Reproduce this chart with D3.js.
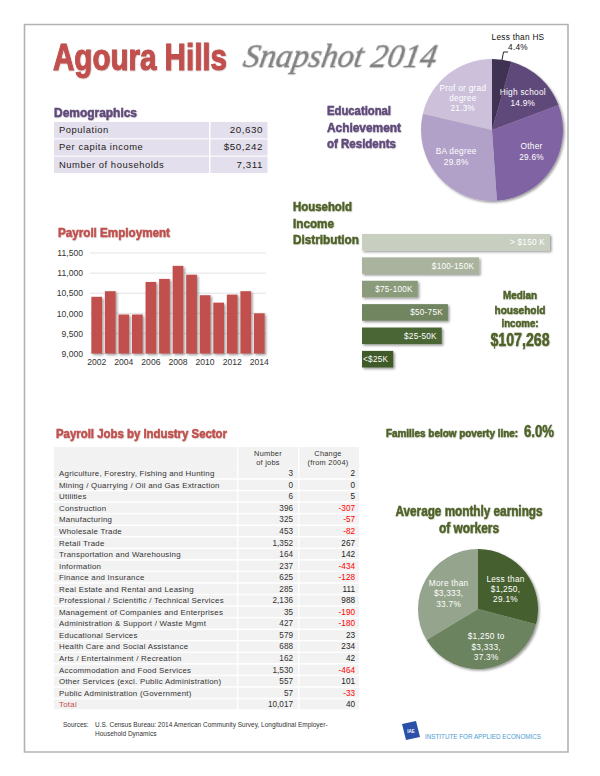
<!DOCTYPE html>
<html>
<head>
<meta charset="utf-8">
<script src="https://cdn.jsdelivr.net/npm/d3@7"></script>
<style>
  html, body { margin: 0; padding: 0; background: #fff; }
  svg { display: block; }
  text { font-family: "Liberation Sans", sans-serif; }
  .head { font-family: "Liberation Sans Narrow", "Liberation Sans", sans-serif; font-weight: bold; stroke-width: 0.5px; paint-order: stroke; }
  .script { font-family: "Liberation Serif", serif; font-style: italic; }
  .cell { letter-spacing: 0.25px; }
  .wide { letter-spacing: 0.55px; }
</style>
</head>
<body>
<svg id="page" width="600" height="776"></svg>
<script>
const demographicLabels = ["Population", "Per capita income", "Number of households"];
const demographicValues = ["20,630", "$50,242", "7,311"];

const educationLabels = [["Less than HS", "4.4%"], ["High school", "14.9%"], ["Other", "29.6%"], ["BA degree", "29.8%"], ["Prof or grad", "degree", "21.3%"]];
const educationShares = [4.4, 14.9, 29.6, 29.8, 21.3];
const educationColors = ["#403152", "#5f497a", "#8064a2", "#b1a0c7", "#ccc0da"];

const payrollYears = [2002, 2003, 2004, 2005, 2006, 2007, 2008, 2009, 2010, 2011, 2012, 2013, 2014];
const payrollValues = [10410, 10550, 9970, 9970, 10780, 10855, 11180, 10960, 10450, 10265, 10465, 10550, 10000];
const payrollTicks = [9000, 9500, 10000, 10500, 11000, 11500];

const incomeLabels = ["> $150 K", "$100-150K", "$75-100K", "$50-75K", "$25-50K", "<$25K"];
const incomeShares = [33.7, 21, 10, 15.4, 14.3, 5.6];
const incomeColors = ["#c8cfc1", "#a9b39e", "#8a9b7c", "#6f8561", "#4b6636", "#3f5a2a"];

const sectorNames = [
    "Agriculture, Forestry, Fishing and Hunting", "Mining / Quarrying / Oil and Gas Extraction", "Utilities",
    "Construction", "Manufacturing", "Wholesale Trade", "Retail Trade", "Transportation and Warehousing",
    "Information", "Finance and Insurance", "Real Estate and Rental and Leasing",
    "Professional / Scientific / Technical Services", "Management of Companies and Enterprises",
    "Administration & Support / Waste Mgmt", "Educational Services", "Health Care and Social Assistance",
    "Arts / Entertainment / Recreation", "Accommodation and Food Services",
    "Other Services (excl. Public Administration)", "Public Administration (Government)", "Total"
];
const sectorJobs = [3, 0, 6, 396, 325, 453, 1352, 164, 237, 625, 285, 2136, 35, 427, 579, 688, 162, 1530, 557, 57, 10017];
const sectorChange = [2, 0, 5, -307, -57, -82, 267, 142, -434, -128, 111, 988, -190, -180, 23, 234, 42, -464, 101, -33, 40];

const earningsLabels = [["Less than", "$1,250,", "29.1%"], ["$1,250 to", "$3,333,", "37.3%"], ["More than", "$3,333,", "33.7%"]];
const earningsShares = [29.1, 37.3, 33.7];
const earningsColors = ["#44602f", "#6c8360", "#95a48c"];

const red = "#c0504d";
const purple = "#5f497a";
const green = "#4f6228";

const svg = d3.select("#page");
const defs = svg.append("defs");

const addShadow = (id, dx, dy, blur, opacity) => {
    defs.append("filter")
        .attr("id", id)
        .attr("x", "-20%").attr("y", "-20%")
        .attr("width", "150%").attr("height", "150%")
        .append("feDropShadow")
        .attr("dx", dx).attr("dy", dy)
        .attr("stdDeviation", blur)
        .attr("flood-color", "#000")
        .attr("flood-opacity", opacity);
}
addShadow("shadow", 1.5, 1.5, 1.2, 0.4);
addShadow("textShadow", 0.5, 0.5, 0.5, 0.25);

const heading = (x, y, text, size, color, width, anchor = "start") => {
    const node = svg.append("text")
        .attr("class", "head")
        .attr("x", x).attr("y", y)
        .attr("text-anchor", anchor)
        .attr("font-size", size)
        .attr("fill", color)
        .attr("stroke", color)
        .attr("filter", "url(#textShadow)")
        .text(text);
    if (width) node.attr("textLength", width).attr("lengthAdjust", "spacingAndGlyphs");
    return node;
}

// page frame
svg.append("path")
    .attr("d", "M24.5,24.5 H568 V752 H24.5 Z")
    .attr("fill", "none")
    .attr("stroke", "#b2b2b2")
    .attr("stroke-width", 1.6);

// title
heading(53, 70, "Agoura Hills", 37, red, 174).style("stroke-width", "1.1px");
svg.append("text")
    .attr("class", "script")
    .attr("transform", "translate(242, 67) skewX(-10)")
    .attr("font-size", 34)
    .attr("fill", "#808080")
    .attr("stroke", "#808080")
    .attr("stroke-width", 0.3)
    .attr("filter", "url(#textShadow)")
    .attr("textLength", 193)
    .attr("lengthAdjust", "spacingAndGlyphs")
    .text("Snapshot 2014");

// demographics table
heading(54, 117, "Demographics", 13.5, purple, 83);

const demoRows = d3.scaleBand().domain(demographicLabels).range([122, 173]).paddingInner(0.06);
const demoRow = svg.append("g").selectAll("g")
    .data(demographicLabels)
    .join("g")
    .attr("transform", label => `translate(0, ${demoRows(label)})`);

demoRow.append("rect").attr("x", 54).attr("width", 155).attr("height", demoRows.bandwidth()).attr("fill", "#e4dfec");
demoRow.append("rect").attr("x", 210.5).attr("width", 57).attr("height", demoRows.bandwidth()).attr("fill", "#e4dfec");
demoRow.append("text")
    .attr("class", "wide")
    .attr("x", 59).attr("y", 11)
    .attr("font-size", 9.4)
    .attr("fill", "#222")
    .text(label => label);
demoRow.append("text")
    .attr("class", "wide")
    .attr("x", 263).attr("y", 11)
    .attr("text-anchor", "end")
    .attr("font-size", 9.8)
    .attr("fill", "#222")
    .text((label, i) => demographicValues[i]);

// education pie
[["Educational", 115, 64], ["Achievement", 132, 74], ["of Residents", 148, 69]].forEach(line => {
    heading(327, line[1], line[0], 13.5, purple, line[2]);
});

const drawPie = (cx, cy, radius, labelRadius, shares, colors, labels, nudgeX, nudgeY, skipFirst) => {
    const pie = d3.pie().sort(null).value(share => share)(shares);
    const arc = d3.arc().innerRadius(0).outerRadius(radius);
    const labelArc = d3.arc().innerRadius(labelRadius).outerRadius(labelRadius);
    const group = svg.append("g").attr("transform", `translate(${cx}, ${cy})`);

    group.append("g")
        .attr("filter", "url(#shadow)")
        .selectAll("path")
        .data(pie)
        .join("path")
        .attr("d", arc)
        .attr("fill", (slice, i) => colors[i]);

    pie.forEach((slice, i) => {
        if (skipFirst && i === 0) return;
        const [x, y] = labelArc.centroid(slice);
        const lines = labels[i];
        const text = group.append("text")
            .attr("class", "cell")
            .attr("text-anchor", "middle")
            .attr("font-size", 8.3)
            .attr("fill", "#fff");
        lines.forEach((line, n) => {
            text.append("tspan")
                .attr("x", x + nudgeX[i])
                .attr("y", y + nudgeY[i] + 3 + (n - (lines.length - 1) / 2) * 10.2)
                .text(line);
        });
    });
}

drawPie(492, 130, 71, 47, educationShares, educationColors, educationLabels, [0, -1, 0, 0, 0], [0, 2, -4, -4, 5], true);

educationLabels[0].forEach((line, n) => {
    svg.append("text")
        .attr("class", "cell")
        .attr("x", 518).attr("y", 40 + n * 10)
        .attr("text-anchor", "middle")
        .attr("font-size", 8.3)
        .attr("fill", "#111")
        .text(line);
});
svg.append("path")
    .attr("d", "M502,60 L503.5,52 H508")
    .attr("fill", "none")
    .attr("stroke", "#111")
    .attr("stroke-width", 0.9);

// payroll employment bars
heading(58, 237, "Payroll Employment", 13.5, red, 112);

const payrollX = d3.scaleBand().domain(payrollYears).range([90, 266]).paddingInner(0.21).paddingOuter(0.1);
const payrollY = d3.scaleLinear().domain([9000, 11500]).range([353.5, 253]);

const payrollAxisY = svg.append("g")
    .attr("transform", "translate(90, 0)")
    .call(d3.axisLeft(payrollY).tickValues(payrollTicks).tickSize(0).tickPadding(7).tickFormat(d3.format(",")));
payrollAxisY.select(".domain").remove();
payrollAxisY.selectAll("text").attr("font-size", 8.6).attr("fill", "#333");

svg.append("g").selectAll("line")
    .data(payrollTicks)
    .join("line")
    .attr("x1", 90).attr("x2", 266)
    .attr("y1", tick => payrollY(tick)).attr("y2", tick => payrollY(tick))
    .attr("stroke", "#dcdcdc")
    .attr("stroke-width", 0.8);

svg.append("g")
    .attr("filter", "url(#shadow)")
    .selectAll("rect")
    .data(payrollYears)
    .join("rect")
    .attr("x", year => payrollX(year))
    .attr("width", payrollX.bandwidth())
    .attr("y", (year, i) => payrollY(payrollValues[i]))
    .attr("height", (year, i) => payrollY(9000) - payrollY(payrollValues[i]))
    .attr("fill", red);

const payrollAxisX = svg.append("g")
    .attr("transform", "translate(0, 353.5)")
    .call(d3.axisBottom(payrollX)
        .tickValues(payrollYears.filter((year, i) => i % 2 === 0))
        .tickSize(0).tickPadding(5));
payrollAxisX.select(".domain").remove();
payrollAxisX.selectAll("text").attr("font-size", 8.6).attr("fill", "#333");

// household income bars
[["Household", 211, 59], ["Income", 228, 41], ["Distribution", 244, 66]].forEach(line => {
    heading(293, line[1], line[0], 13.5, green, line[2]);
});

const incomeX = d3.scaleLinear().domain([0, 33.7]).range([362, 550]);
const incomeY = d3.scaleBand().domain(incomeLabels).range([234, 367.5]).paddingInner(0.29);

svg.append("g")
    .attr("filter", "url(#shadow)")
    .selectAll("rect")
    .data(incomeLabels)
    .join("rect")
    .attr("x", incomeX(0))
    .attr("y", label => incomeY(label))
    .attr("width", (label, i) => incomeX(incomeShares[i]) - incomeX(0))
    .attr("height", incomeY.bandwidth())
    .attr("fill", (label, i) => incomeColors[i]);

svg.append("g").selectAll("text")
    .data(incomeLabels)
    .join("text")
    .attr("class", "cell")
    .attr("x", (label, i) => incomeX(incomeShares[i]) - 5)
    .attr("y", label => incomeY(label) + incomeY.bandwidth() / 2 + 3)
    .attr("text-anchor", "end")
    .attr("font-size", 8.2)
    .attr("fill", "#fff")
    .text(label => label);

[["Median", 299, 11.8, 34], ["household", 313.5, 11.8, 51], ["income:", 327, 11.8, 37], ["$107,268", 346, 17.5, 59]].forEach(line => {
    heading(520, line[1], line[0], line[2], green, line[3], "middle");
});

// industry table
heading(56, 438, "Payroll Jobs by Industry Sector", 13.5, red, 171);

const sectorY = d3.scaleBand().domain(sectorNames).range([467.5, 710]).paddingInner(0.13).paddingOuter(0.06);
const columns = [[54, 183], [238.5, 59.5], [299.5, 59.5]];

columns.forEach(col => {
    svg.append("rect").attr("x", col[0]).attr("y", 447).attr("width", col[1]).attr("height", 21).attr("fill", "#f2f2f2");
});
[["Number", 268, 456], ["of jobs", 268, 465], ["Change", 328, 456], ["(from 2004)", 328, 465]].forEach(line => {
    svg.append("text")
        .attr("class", "cell")
        .attr("x", line[1]).attr("y", line[2])
        .attr("text-anchor", "middle")
        .attr("font-size", 7.4)
        .attr("fill", "#333")
        .text(line[0]);
});

const sectorRow = svg.append("g").selectAll("g")
    .data(sectorNames)
    .join("g")
    .attr("transform", name => `translate(0, ${sectorY(name)})`);

columns.forEach(col => {
    sectorRow.append("rect")
        .attr("x", col[0])
        .attr("width", col[1])
        .attr("height", sectorY.bandwidth())
        .attr("fill", "#f2f2f2");
});
sectorRow.append("text")
    .attr("class", "cell")
    .attr("x", 59).attr("y", 8)
    .attr("font-size", 7.9)
    .attr("fill", name => name === "Total" ? red : "#333")
    .text(name => name);
sectorRow.append("text")
    .attr("x", 293).attr("y", 8)
    .attr("text-anchor", "end")
    .attr("font-size", 8.2)
    .attr("fill", "#333")
    .text((name, i) => d3.format(",")(sectorJobs[i]));
sectorRow.append("text")
    .attr("x", 355).attr("y", 8)
    .attr("text-anchor", "end")
    .attr("font-size", 8.2)
    .attr("fill", (name, i) => sectorChange[i] < 0 ? "#ff0000" : "#222")
    .text((name, i) => sectorChange[i]);

// poverty line and earnings pie
heading(386, 437, "Families below poverty line:", 10.3, green, 132);
heading(524, 437, "6.0%", 17, green, 30);

heading(469, 516, "Average monthly earnings", 14, green, 147, "middle");
heading(469, 533, "of workers", 14, green, 60, "middle");

drawPie(478, 609, 60, 36, earningsShares, earningsColors, earningsLabels, [-1, 3, 2], [2, 2, 2], false);

// sources and logo
svg.append("text").attr("x", 63).attr("y", 727).attr("font-size", 6.5).attr("fill", "#333").text("Sources:");
["U.S. Census Bureau: 2014 American Community Survey, Longitudinal Employer-", "Household Dynamics"].forEach((line, n) => {
    svg.append("text")
        .attr("x", 95).attr("y", 727 + n * 9)
        .attr("font-size", 6.5)
        .attr("fill", "#333")
        .text(line);
});

svg.append("path").attr("d", "M402,724 L416,721 L420,737 L406,740 Z").attr("fill", "#2a50a8");
svg.append("text")
    .attr("x", 411).attr("y", 733)
    .attr("text-anchor", "middle")
    .attr("font-size", 4.5)
    .attr("font-weight", "bold")
    .attr("fill", "#fff")
    .text("IAE");
svg.append("text")
    .attr("x", 425).attr("y", 739)
    .attr("font-size", 6.8)
    .attr("fill", "#4a9bd4")
    .attr("textLength", 116)
    .attr("lengthAdjust", "spacingAndGlyphs")
    .text("INSTITUTE FOR APPLIED ECONOMICS");
</script>
</body>
</html>
